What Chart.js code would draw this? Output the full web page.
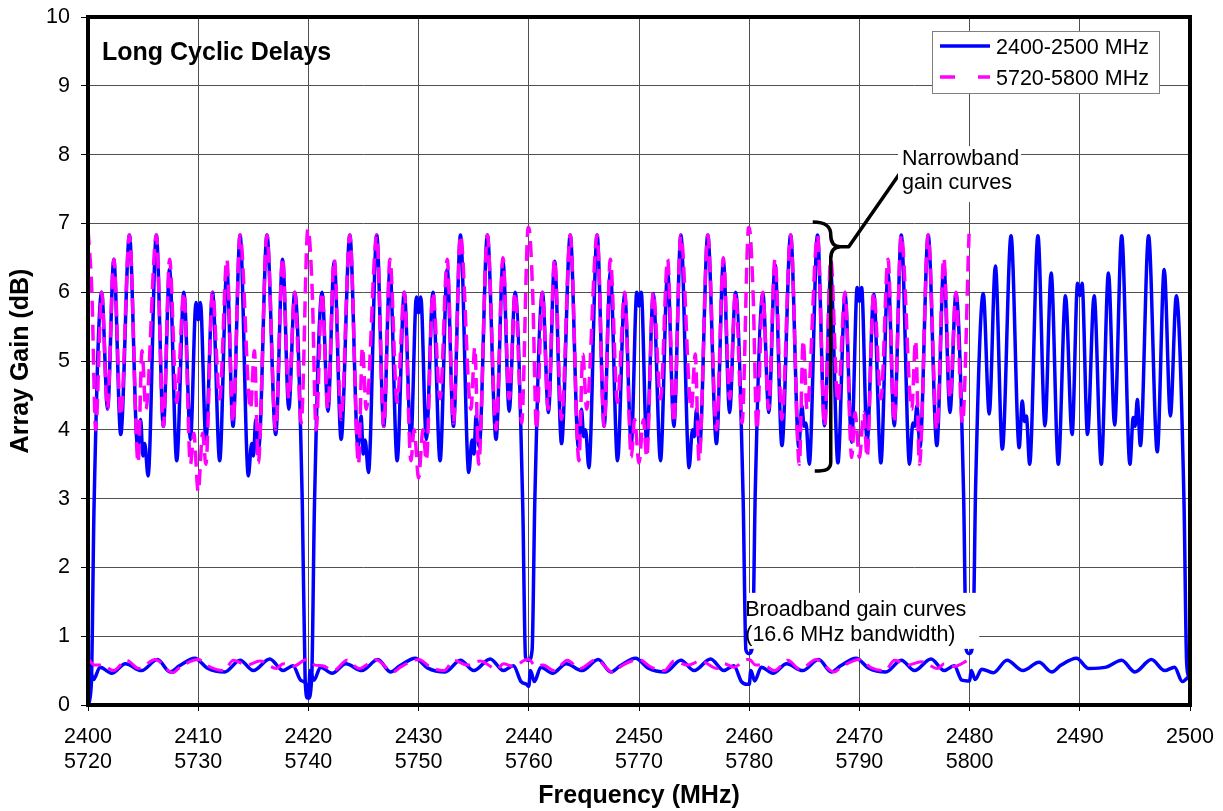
<!DOCTYPE html>
<html>
<head>
<meta charset="utf-8">
<script src="https://cdn.jsdelivr.net/npm/chart.js@4.4.1/dist/chart.umd.min.js"></script>
<style>
  html, body { margin: 0; padding: 0; background: #fff; }
</style>
</head>
<body>
<canvas id="chart" width="1223" height="811"></canvas>
<script>
// channel starts (MHz, lower band) - each 20 MHz block has its own read-off curve
const channelStarts = [2400, 2420, 2440, 2460, 2480];

// x tick labels, two rows
const ticks24 = ['2400', '2410', '2420', '2430', '2440', '2450', '2460', '2470', '2480', '2490', '2500'];
const ticks58 = ['5720', '5730', '5740', '5750', '5760', '5770', '5780', '5790', '5800', '', ''];

// narrowband, 2400-2500 MHz (offset within block, gain dB)
const nbOffsets = [0, 0.3, 0.55, 1.24, 1.78, 2.34, 2.97, 3.76, 4.5, 4.78, 4.98, 5.15, 5.45, 6.2, 6.84, 7.4, 8.05, 8.7, 9.3, 9.8, 10, 10.2,
  10.7, 11.3, 11.95, 12.6, 13.16, 13.8, 14.55, 14.85, 15.02, 15.22, 15.5, 16.24, 17.03, 17.66, 18.22, 18.76, 19.45, 19.7, 19.92];
const nbBlue2400 = [0.0, 0.3, 2.9, 6.0, 4.3, 6.48, 3.93, 6.83, 3.75, 4.15, 3.62, 3.8, 3.33, 6.83, 4.05, 6.33, 3.55, 6.0, 3.86, 5.85, 5.6, 5.85,
  3.86, 6.0, 3.55, 6.33, 4.05, 6.83, 3.33, 3.8, 3.62, 4.15, 3.75, 6.83, 3.93, 6.48, 4.3, 6.0, 2.9, 0.4, 0.1];
const nbBlue2420 = [0.1, 0.4, 2.9, 6.0, 4.27, 6.45, 3.86, 6.83, 3.75, 4.2, 3.65, 3.85, 3.38, 6.83, 4.05, 6.33, 3.55, 6.0, 3.86, 5.93, 5.7, 5.93,
  3.86, 6.0, 3.55, 6.33, 4.05, 6.83, 3.38, 3.85, 3.65, 4.2, 3.75, 6.83, 3.86, 6.45, 4.27, 6.0, 2.9, 0.7, 0.65];
const nbBlue2440 = [0.65, 0.8, 3.0, 6.0, 4.25, 6.45, 3.8, 6.83, 3.75, 4.3, 3.9, 4.0, 3.45, 6.83, 4.05, 6.3, 3.55, 5.98, 3.8, 6.0, 5.8, 6.0,
  3.8, 5.98, 3.55, 6.3, 4.05, 6.83, 3.45, 4.0, 3.9, 4.3, 3.75, 6.83, 3.8, 6.45, 4.25, 6.0, 3.0, 0.8, 0.75];
const nbBlue2460 = [0.75, 0.85, 3.1, 5.98, 4.25, 6.4, 3.77, 6.83, 3.75, 4.35, 4.05, 4.1, 3.5, 6.83, 4.06, 6.28, 3.52, 5.97, 3.82, 6.07, 5.87, 6.07,
  3.82, 5.97, 3.52, 6.28, 4.06, 6.83, 3.5, 4.1, 4.05, 4.35, 3.75, 6.83, 3.77, 6.4, 4.25, 5.98, 3.1, 0.8, 0.75];
const nbBlue2480 = [0.75, 0.9, 3.2, 5.98, 4.23, 6.38, 3.72, 6.82, 3.74, 4.42, 4.12, 4.2, 3.5, 6.82, 4.06, 6.28, 3.5, 5.95, 3.93, 6.13, 5.95, 6.13,
  3.93, 5.95, 3.5, 6.28, 4.07, 6.82, 3.5, 4.18, 4.05, 4.44, 3.77, 6.82, 3.68, 6.33, 4.2, 5.95, 3.0, 0.6, 0.4];

// narrowband, 5720-5800 MHz (drawn on the same 20 MHz blocks)
const nbMagOffsets = [0, 0.35, 0.7, 1.24, 1.76, 2.34, 2.97, 3.76, 4.55, 4.9, 5.25, 6.2, 6.84, 7.4, 8.05, 8.7, 9.3, 9.6, 10, 10.4,
  10.7, 11.3, 11.95, 12.6, 13.16, 13.8, 14.75, 15.1, 15.45, 16.24, 17.03, 17.66, 18.22, 18.76, 19.35, 19.95];
const nbMag5720 = [6.92, 6.0, 4.0, 6.0, 4.3, 6.48, 4.2, 6.83, 3.52, 5.15, 4.3, 6.83, 4.05, 6.48, 4.4, 6.0, 3.5, 3.95, 3.1, 3.95,
  3.5, 6.0, 4.45, 6.48, 4.1, 6.83, 4.3, 5.15, 3.52, 6.83, 4.0, 6.5, 4.45, 6.0, 4.1, 6.92];
const nbMag5740 = [6.91, 6.0, 4.0, 6.0, 4.3, 6.48, 4.15, 6.83, 3.5, 5.2, 4.3, 6.83, 4.05, 6.48, 4.4, 6.0, 3.55, 4.0, 3.3, 4.0,
  3.55, 6.0, 4.45, 6.48, 4.1, 6.83, 4.3, 5.2, 3.5, 6.83, 4.0, 6.5, 4.45, 6.0, 4.1, 6.94];
const nbMag5760 = [6.94, 6.0, 4.0, 6.0, 4.3, 6.48, 4.15, 6.83, 3.55, 5.1, 4.3, 6.83, 4.05, 6.48, 4.4, 6.0, 3.6, 4.15, 3.52, 4.15,
  3.6, 6.0, 4.45, 6.48, 4.1, 6.83, 4.3, 5.1, 3.55, 6.83, 4.0, 6.5, 4.45, 6.0, 4.1, 6.94];
const nbMag5780 = [6.94, 6.0, 4.0, 6.0, 4.3, 6.48, 4.15, 6.83, 3.5, 5.3, 4.3, 6.83, 4.05, 6.48, 4.4, 6.0, 3.6, 4.25, 3.6, 4.25,
  3.6, 6.0, 4.45, 6.48, 4.1, 6.83, 4.3, 5.3, 3.5, 6.83, 4.0, 6.5, 4.45, 6.0, 4.1, 6.85];

// broadband (16.6 MHz bandwidth)
const bbOffsets = [0, 0.15, 0.5, 1.1, 2.15, 3.4, 4.85, 6.3, 7.45, 8.3, 9.7, 10.8, 12.4, 13.8, 15.0, 16.5, 17.7, 18.6, 19.3, 19.8];
const bbBlue2400 = [0.0, 0.53, 0.37, 0.55, 0.46, 0.6, 0.5, 0.66, 0.48, 0.57, 0.68, 0.54, 0.48, 0.65, 0.5, 0.67, 0.5, 0.57, 0.36, 0.3];
const bbBlue2420 = [0.12, 0.5, 0.36, 0.55, 0.46, 0.6, 0.5, 0.66, 0.48, 0.57, 0.68, 0.54, 0.48, 0.65, 0.5, 0.67, 0.5, 0.57, 0.34, 0.3];
const bbBlue2440 = [0.27, 0.5, 0.34, 0.55, 0.46, 0.6, 0.5, 0.66, 0.48, 0.57, 0.68, 0.54, 0.48, 0.65, 0.5, 0.67, 0.5, 0.57, 0.34, 0.3];
const bbBlue2460 = [0.3, 0.5, 0.35, 0.55, 0.46, 0.6, 0.5, 0.66, 0.48, 0.57, 0.68, 0.54, 0.48, 0.65, 0.5, 0.67, 0.5, 0.57, 0.36, 0.35];
const bbBlue2480 = [0.35, 0.5, 0.37, 0.52, 0.47, 0.65, 0.5, 0.62, 0.48, 0.58, 0.68, 0.53, 0.55, 0.65, 0.48, 0.66, 0.5, 0.55, 0.34, 0.4];
const bbMagOffsets = [0, 0.6, 1.3, 2.3, 3.5, 4.6, 6.1, 7.7, 8.35, 10.0, 11.1, 12.3, 13.2, 14.4, 15.6, 17.1, 17.7, 18.6, 19.85];
const bbMag5720 = [0.68, 0.58, 0.58, 0.5, 0.65, 0.53, 0.66, 0.47, 0.55, 0.66, 0.55, 0.5, 0.65, 0.58, 0.64, 0.53, 0.6, 0.56, 0.66];
const bbMag5740 = [0.66, 0.58, 0.57, 0.5, 0.65, 0.53, 0.66, 0.48, 0.55, 0.66, 0.55, 0.5, 0.65, 0.58, 0.64, 0.52, 0.6, 0.56, 0.66];
const bbMag5760 = [0.66, 0.57, 0.58, 0.5, 0.65, 0.53, 0.66, 0.47, 0.56, 0.66, 0.55, 0.5, 0.64, 0.58, 0.64, 0.53, 0.6, 0.55, 0.66];
const bbMag5780 = [0.66, 0.58, 0.58, 0.5, 0.65, 0.52, 0.66, 0.48, 0.55, 0.66, 0.54, 0.5, 0.65, 0.58, 0.63, 0.53, 0.6, 0.56, 0.65];

const FONT = 'Arial, "Liberation Sans", Helvetica, sans-serif';
const BLUE = '#0000ff';
const MAGENTA = '#ff00ff';

function blocksToPoints(offsets, blocks) {
    const pts = [];
    blocks.forEach((vals, i) => {
        vals.forEach((v, j) => pts.push({ x: channelStarts[i] + offsets[j], y: v }));
    });
    return pts;
}

const annotations = {
    id: 'annotations',
    afterDatasetsDraw(chart) {
        const { ctx, chartArea: area, scales: { x, y } } = chart;
        ctx.save();
        ctx.fillStyle = '#000';
        ctx.textBaseline = 'alphabetic';
        ctx.textAlign = 'left';

        // title inside the plot
        ctx.font = 'bold 25px ' + FONT;
        ctx.fillText('Long Cyclic Delays', area.left + 14, area.top + 43);

        // legend box
        const lx = area.right - 258, ly = area.top + 14;
        ctx.fillStyle = '#fff';
        ctx.fillRect(lx, ly, 227, 62);
        ctx.strokeStyle = '#808080';
        ctx.lineWidth = 1;
        ctx.strokeRect(lx + 0.5, ly + 0.5, 227, 62);
        ctx.lineWidth = 3.5;
        ctx.strokeStyle = BLUE;
        ctx.beginPath();
        ctx.moveTo(lx + 8, ly + 15);
        ctx.lineTo(lx + 58, ly + 15);
        ctx.stroke();
        ctx.strokeStyle = MAGENTA;
        ctx.setLineDash([15, 23]);
        ctx.beginPath();
        ctx.moveTo(lx + 8, ly + 46);
        ctx.lineTo(lx + 58, ly + 46);
        ctx.stroke();
        ctx.setLineDash([]);
        ctx.fillStyle = '#000';
        ctx.font = '21.5px ' + FONT;
        ctx.fillText(chart.data.datasets[2].label, lx + 64, ly + 23);
        ctx.fillText(chart.data.datasets[0].label, lx + 64, ly + 54);

        // narrowband call-out: brace + pointer
        const bx = x.getPixelForValue(2467.4);
        const yTop = y.getPixelForValue(7.02);
        const yMid = y.getPixelForValue(6.66);
        const yBot = y.getPixelForValue(3.4);
        ctx.strokeStyle = '#000';
        ctx.lineWidth = 3.5;
        ctx.lineJoin = 'round';
        ctx.beginPath();
        ctx.moveTo(bx - 18, yTop);
        ctx.bezierCurveTo(bx - 4, yTop, bx, yTop + 5, bx, yTop + 13);
        ctx.quadraticCurveTo(bx, yMid, bx + 10, yMid);
        ctx.lineTo(bx + 18, yMid);
        ctx.lineTo(x.getPixelForValue(2473.77), y.getPixelForValue(7.75));
        ctx.moveTo(bx + 10, yMid);
        ctx.quadraticCurveTo(bx, yMid, bx, yMid + 12);
        ctx.lineTo(bx, yBot - 9);
        ctx.bezierCurveTo(bx, yBot - 2, bx - 4, yBot, bx - 16, yBot);
        ctx.stroke();

        ctx.font = '21.5px ' + FONT;
        const nx = x.getPixelForValue(2473.5), ny = y.getPixelForValue(8.08);
        ctx.fillStyle = '#fff';
        ctx.fillRect(nx, ny - 3, 123, 56);
        ctx.fillStyle = '#000';
        ctx.fillText('Narrowband', nx + 4, ny + 16);
        ctx.fillText('gain curves', nx + 4, ny + 40);

        // broadband call-out
        const gx = x.getPixelForValue(2459.82), gy = y.getPixelForValue(1.63);
        ctx.fillStyle = '#fff';
        ctx.fillRect(gx + 1, gy, 231, 56);
        ctx.fillStyle = '#000';
        ctx.fillText('Broadband gain curves', gx - 2, gy + 23);
        ctx.fillText('(16.6 MHz bandwidth)', gx - 2, gy + 48);
        ctx.restore();
    },
    afterDraw(chart) {
        const { ctx, chartArea: area } = chart;
        ctx.save();
        ctx.strokeStyle = '#000';
        ctx.lineWidth = 4;
        ctx.strokeRect(area.left, area.top, area.right - area.left, area.bottom - area.top);
        ctx.restore();
    }
};

new Chart(document.getElementById('chart'), {
    type: 'line',
    data: {
        datasets: [
            {
                label: '5720-5800 MHz',
                data: blocksToPoints(nbMagOffsets, [nbMag5720, nbMag5740, nbMag5760, nbMag5780]),
                borderColor: MAGENTA,
                borderWidth: 3.5,
                borderDash: [16, 8],
            },
            {
                label: '5720-5800 MHz broadband',
                data: blocksToPoints(bbMagOffsets, [bbMag5720, bbMag5740, bbMag5760, bbMag5780]),
                borderColor: MAGENTA,
                borderWidth: 3,
                borderDash: [16, 8],
            },
            {
                label: '2400-2500 MHz',
                data: blocksToPoints(nbOffsets, [nbBlue2400, nbBlue2420, nbBlue2440, nbBlue2460, nbBlue2480]),
                borderColor: BLUE,
                borderWidth: 3.5,
            },
            {
                label: '2400-2500 MHz broadband',
                data: blocksToPoints(bbOffsets, [bbBlue2400, bbBlue2420, bbBlue2440, bbBlue2460, bbBlue2480]),
                borderColor: BLUE,
                borderWidth: 3.5,
            },
        ],
    },
    options: {
        responsive: false,
        animation: false,
        events: [],
        layout: { padding: { top: 17, right: 33, left: 0, bottom: 0 } },
        elements: {
            point: { radius: 0 },
            line: { cubicInterpolationMode: 'monotone', fill: false },
        },
        plugins: {
            legend: { display: false },
            tooltip: { enabled: false },
        },
        scales: {
            x: {
                type: 'linear',
                min: 2400,
                max: 2500,
                afterFit: (scale) => {
                    scale.height = 106;
                    scale.paddingLeft = 0;
                    scale.paddingRight = 0;
                },
                border: { display: false },
                grid: { color: '#505050', lineWidth: 1, tickLength: 6, tickColor: '#000' },
                ticks: {
                    stepSize: 10,
                    autoSkip: false,
                    maxRotation: 0,
                    padding: 14,
                    color: '#000',
                    font: { family: FONT, size: 21.5, lineHeight: 1.14 },
                    callback: (value) => {
                        const i = Math.round((value - 2400) / 10);
                        return ticks58[i] ? [ticks24[i], ticks58[i]] : ticks24[i];
                    },
                },
                title: {
                    display: true,
                    text: 'Frequency (MHz)',
                    color: '#000',
                    font: { family: FONT, size: 25, weight: 'bold' },
                    padding: { top: 0, bottom: 0 },
                },
            },
            y: {
                min: 0,
                max: 10,
                afterFit: (scale) => {
                    scale.width = 88;
                    scale.paddingTop = 0;
                    scale.paddingBottom = 0;
                },
                border: { display: false },
                grid: { color: '#505050', lineWidth: 1, tickLength: 7, tickColor: '#000' },
                ticks: {
                    stepSize: 1,
                    padding: 11,
                    color: '#000',
                    font: { family: FONT, size: 21.5 },
                },
                title: {
                    display: true,
                    text: 'Array Gain (dB)',
                    color: '#000',
                    font: { family: FONT, size: 25, weight: 'bold' },
                    padding: { top: 6, bottom: 0 },
                },
            },
        },
    },
    plugins: [annotations],
});
</script>
</body>
</html>
